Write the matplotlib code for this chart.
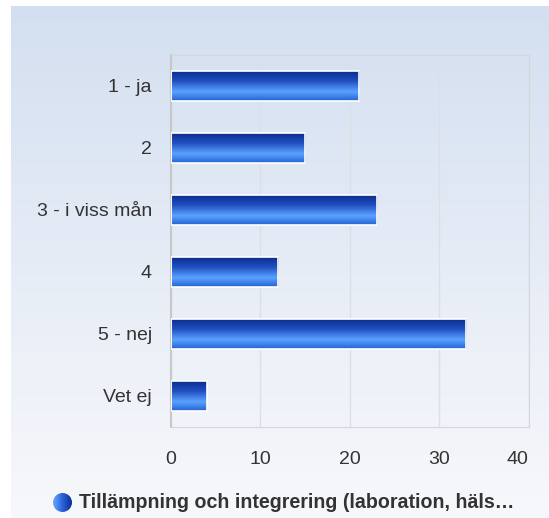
import numpy as np
from matplotlib import pyplot as plt
from matplotlib.colors import LinearSegmentedColormap
from matplotlib.patches import Circle
from matplotlib.transforms import ScaledTranslation

categories = ["1 - ja", "2", "3 - i viss mån", "4", "5 - nej", "Vet ej"]
values = [21, 15, 23, 12, 33, 4]
xticks = [0, 10, 20, 30, 40]
series_name = "Tillämpning och integrering (laboration, häls…"

W, H = 549, 518
fig = plt.figure(figsize=(W / 100, H / 100), dpi=100)
fig.patch.set_facecolor("white")

# background panel with a soft vertical gradient
bg = fig.add_axes([0, 0, 1, 1], zorder=0)
bg.set_xlim(0, W)
bg.set_ylim(H, 0)
bg.axis("off")
bg_cmap = LinearSegmentedColormap.from_list("bg", ["#d3dff0", "#e6ecf6", "#f7f8fb"])
grad = np.linspace(0, 1, 256).reshape(-1, 1)
bg.imshow(grad, cmap=bg_cmap, extent=[11, W, H, 6], aspect="auto", zorder=0)

# legend marker + text
leg_cmap = LinearSegmentedColormap.from_list("leg", ["#6aa8ff", "#2a62d8", "#0c2f95"])
marker = Circle((62.5, 502.5), 9.5, transform=bg.transData, facecolor="none", edgecolor="none")
bg.add_patch(marker)
hgrad = np.linspace(0, 1, 64).reshape(1, -1)
im = bg.imshow(hgrad, cmap=leg_cmap, extent=[53, 72, 512, 493], aspect="auto", zorder=2)
im.set_clip_path(marker)
bg.text(79, 503, series_name, fontsize=14.1, fontweight="bold", color="#333333",
        family="Liberation Sans", va="center", ha="left")

# main bar chart
ax = fig.add_axes([170.7 / W, 91 / H, 358.3 / W, 372 / H], zorder=1)
ax.patch.set_alpha(0)
y = np.arange(len(categories))
bars = ax.barh(y, values, height=0.49, facecolor="none", edgecolor="white", linewidth=1.2, zorder=3)

bar_cmap = LinearSegmentedColormap.from_list(
    "bar", [(0, "#0a2a88"), (0.35, "#1f4fc0"), (0.7, "#5aa2ff"), (1.0, "#2463d2")])
vgrad = np.linspace(0, 1, 128).reshape(-1, 1)
for b in bars:
    x0, y0 = b.get_x(), b.get_y()
    w, h = b.get_width(), b.get_height()
    g = ax.imshow(vgrad, cmap=bar_cmap, extent=[x0, x0 + w, y0 + h, y0],
                  aspect="auto", zorder=2)
    g.set_clip_path(b)

ax.set_xlim(0, 40)
ax.set_ylim(len(categories) - 0.5, -0.5)
ax.set_xticks(xticks)
ax.set_yticks(y)
ax.set_yticklabels(categories)
ax.tick_params(length=0, labelsize=14, colors="#333333")
ax.tick_params(axis="y", pad=13.5)
ax.tick_params(axis="x", pad=17.5)
for lab in ax.get_xticklabels() + ax.get_yticklabels():
    lab.set_family("Liberation Sans")
# last x label is pulled inside the chart edge
last = ax.get_xticklabels()[-1]
last.set_transform(last.get_transform() + ScaledTranslation(-12 / 100, 0, fig.dpi_scale_trans))
ax.grid(axis="x", color="#dcdfe4", linewidth=1)
ax.set_axisbelow(True)
for side in ["top", "right", "bottom"]:
    ax.spines[side].set_color("#d4d6da")
ax.spines["left"].set_color("#c8c8c8")
ax.spines["left"].set_linewidth(1.5)

fig.savefig("out.png", dpi=100)
